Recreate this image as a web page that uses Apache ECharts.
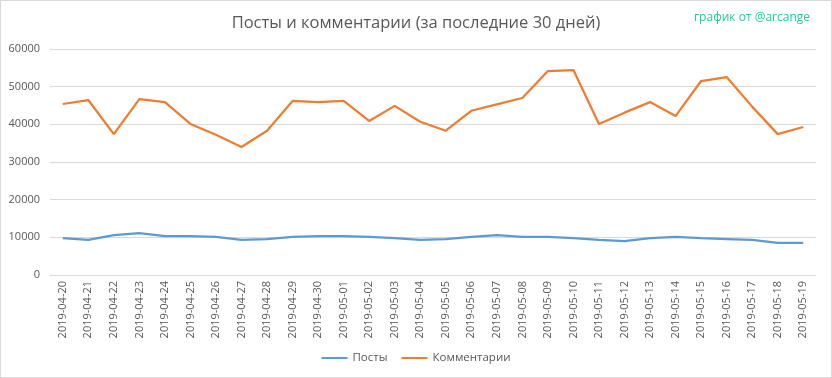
<!DOCTYPE html>
<html>
<head>
<meta charset="utf-8">
<script src="https://cdn.jsdelivr.net/npm/echarts@6/dist/echarts.min.js"></script>
<style>
  html, body { margin: 0; padding: 0; background: #fff; }
  #chart { width: 832px; height: 378px; box-sizing: border-box; border: 1px solid #d9d9d9; }
</style>
</head>
<body>
<div id="chart"></div>
<script>
// даты за последние 30 дней
const days = [
  '2019-04-20', '2019-04-21', '2019-04-22', '2019-04-23', '2019-04-24', '2019-04-25',
  '2019-04-26', '2019-04-27', '2019-04-28', '2019-04-29', '2019-04-30', '2019-05-01',
  '2019-05-02', '2019-05-03', '2019-05-04', '2019-05-05', '2019-05-06', '2019-05-07',
  '2019-05-08', '2019-05-09', '2019-05-10', '2019-05-11', '2019-05-12', '2019-05-13',
  '2019-05-14', '2019-05-15', '2019-05-16', '2019-05-17', '2019-05-18', '2019-05-19'
];
const posts = [
  9800, 9300, 10600, 11100, 10350, 10350, 10100, 9300, 9550, 10100,
  10350, 10350, 10100, 9800, 9300, 9550, 10100, 10600, 10100, 10100,
  9800, 9300, 9000, 9800, 10100, 9800, 9550, 9300, 8500, 8500
];
const comments = [
  45400, 46450, 37400, 46700, 45900, 40100, 37250, 34000, 38300, 46200,
  45900, 46200, 40900, 44900, 40700, 38300, 43600, 45300, 47000, 54150,
  54400, 40100, 43100, 45900, 42200, 51500, 52550, 44700, 37400, 39300
];

const font = '"Open Sans", sans-serif';

let chart = echarts.init(document.getElementById('chart'));
let option = {
    animation: false,
    title: [
        {
            text: 'Посты и комментарии (за последние 30 дней)',
            left: 'center',
            top: 9,
            textStyle: { fontFamily: font, fontSize: 16.5, fontWeight: 'normal', color: '#595959' }
        },
        {
            text: 'график от @arcange',
            right: 16,
            top: 6,
            textStyle: { fontFamily: font, fontSize: 12, fontWeight: 'normal', color: '#1fcf9a' }
        }
    ],
    legend: {
        bottom: 8,
        left: 'center',
        icon: 'rect',
        itemWidth: 26,
        itemHeight: 2,
        itemGap: 14,
        textStyle: { fontFamily: font, fontSize: 11.5, color: '#595959' },
        data: ['Посты', 'Комментарии']
    },
    grid: { left: 49, right: 15, top: 48, bottom: 102 },
    xAxis: {
        type: 'category',
        data: days,
        boundaryGap: true,
        axisLine: { lineStyle: { color: '#d9d9d9' } },
        axisTick: { show: false },
        axisLabel: { rotate: 90, margin: 6, interval: 0, fontFamily: font, fontSize: 11, color: '#595959' }
    },
    yAxis: {
        type: 'value',
        min: 0,
        max: 60000,
        interval: 10000,
        axisLine: { show: false },
        axisTick: { show: false },
        axisLabel: {
            margin: 10,
            fontFamily: font,
            fontSize: 11,
            color: '#595959',
            formatter: function (v) { return String(v); }
        },
        splitLine: { lineStyle: { color: '#d9d9d9' } }
    },
    series: [
        {
            name: 'Посты',
            type: 'line',
            data: posts,
            symbol: 'none',
            color: '#5b9bd5',
            lineStyle: { width: 2.25, color: '#5b9bd5' }
        },
        {
            name: 'Комментарии',
            type: 'line',
            data: comments,
            symbol: 'none',
            color: '#ed7d31',
            lineStyle: { width: 2.25, color: '#ed7d31' }
        }
    ]
};
chart.setOption(option);
</script>
</body>
</html>
